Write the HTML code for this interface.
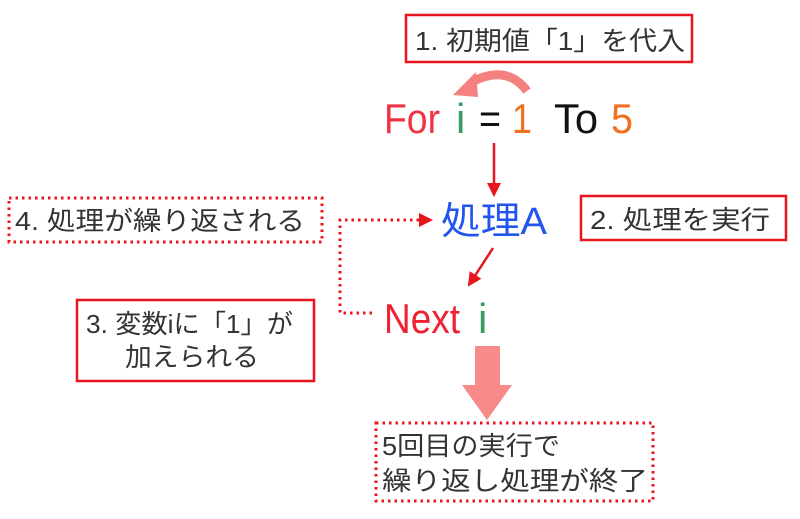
<!DOCTYPE html>
<html><head><meta charset="utf-8"><style>
body{margin:0;background:#fff;}
svg text{font-family:"Liberation Sans","Noto Sans CJK JP",sans-serif;}
</style></head><body>
<svg width="800" height="514" viewBox="0 0 800 514" xmlns="http://www.w3.org/2000/svg">
<defs>
<marker id="ah2" markerWidth="14" markerHeight="14" refX="12" refY="7" orient="auto" markerUnits="userSpaceOnUse"><path d="M0,0 L14,7 L0,14 z" fill="#e8141e"/></marker>
</defs>
<!-- box 1 -->
<rect x="406" y="15" width="286" height="47" fill="#fff" stroke="#e8141e" stroke-width="2.5"/>
<text x="415" y="50" font-size="26" fill="#333" textLength="270" lengthAdjust="spacingAndGlyphs">1. 初期値「1」を代入</text>
<!-- curved arrow -->
<path d="M527,91 Q507,64 472,82" fill="none" stroke="#f48080" stroke-width="9"/>
<path d="M453,95 L476,72 L478,97 z" fill="#f48080"/>
<!-- For line -->
<text x="384" y="133" font-size="42" fill="#ee3344" textLength="56" lengthAdjust="spacingAndGlyphs">For</text>
<text x="456" y="133" font-size="42" fill="#3a9a60">i</text>
<text x="479" y="133" font-size="42" fill="#111" textLength="22" lengthAdjust="spacingAndGlyphs">=</text>
<text x="512" y="133" font-size="42" fill="#f07020" textLength="20" lengthAdjust="spacingAndGlyphs">1</text>
<text x="554" y="133" font-size="42" fill="#111" textLength="44" lengthAdjust="spacingAndGlyphs">To</text>
<text x="611" y="133" font-size="42" fill="#f07020" textLength="22" lengthAdjust="spacingAndGlyphs">5</text>
<line x1="494" y1="143" x2="494" y2="195" stroke="#e8141e" stroke-width="2.5" marker-end="url(#ah2)"/>
<!-- box 4 -->
<rect x="9" y="198" width="313" height="44" fill="#fff" stroke="#e8141e" stroke-width="3" stroke-dasharray="2.5,4"/>
<text x="15" y="230" font-size="26" fill="#333" textLength="290" lengthAdjust="spacingAndGlyphs">4. 処理が繰り返される</text>
<!-- 処理A -->
<text x="441" y="234" font-size="38" fill="#2255ee" textLength="106" lengthAdjust="spacingAndGlyphs">処理A</text>
<!-- box 2 -->
<rect x="581" y="196" width="205" height="44" fill="#fff" stroke="#e8141e" stroke-width="2.5"/>
<text x="590" y="229" font-size="26" fill="#333" textLength="180" lengthAdjust="spacingAndGlyphs">2. 処理を実行</text>
<!-- dotted connector -->
<path d="M372,313 L340,313 L340,220 L420,220" fill="none" stroke="#e8141e" stroke-width="3" stroke-dasharray="2.5,4"/>
<path d="M419,213 L433,220 L419,227 z" fill="#e8141e"/>
<!-- diagonal -->
<line x1="493" y1="248" x2="469" y2="285" stroke="#e8141e" stroke-width="2.5" marker-end="url(#ah2)"/>
<!-- Next i -->
<text x="384" y="333" font-size="42" fill="#ee2233" textLength="76" lengthAdjust="spacingAndGlyphs">Next</text>
<text x="478" y="333" font-size="42" fill="#3a9a60">i</text>
<!-- box 3 -->
<rect x="77" y="300" width="237" height="81" fill="#fff" stroke="#e8141e" stroke-width="2.5"/>
<text x="86" y="333" font-size="26" fill="#333" textLength="207" lengthAdjust="spacingAndGlyphs">3. 変数iに「1」が</text>
<text x="125" y="366" font-size="26" fill="#333" textLength="134" lengthAdjust="spacingAndGlyphs">加えられる</text>
<!-- pink big arrow -->
<path d="M475,346 L500,346 L500,385 L512,385 L487,420 L462,385 L475,385 z" fill="#f88a8a"/>
<!-- box 5 -->
<rect x="376" y="423" width="277" height="78" fill="#fff" stroke="#e8141e" stroke-width="3" stroke-dasharray="2.5,4"/>
<text x="382" y="455" font-size="26" fill="#333" textLength="178" lengthAdjust="spacingAndGlyphs">5回目の実行で</text>
<text x="382" y="490" font-size="26" fill="#333" textLength="266" lengthAdjust="spacingAndGlyphs">繰り返し処理が終了</text>
</svg>
</body></html>
